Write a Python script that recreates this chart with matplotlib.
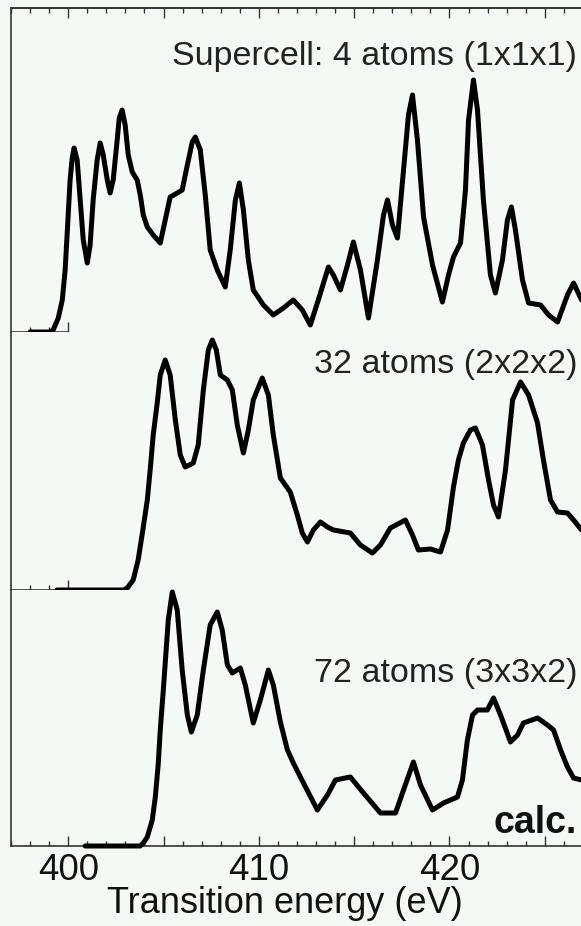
import numpy as np
import matplotlib.pyplot as plt
from matplotlib.ticker import MultipleLocator, FixedLocator, NullFormatter, FuncFormatter

plt.rcParams['font.family'] = ['Liberation Sans', 'DejaVu Sans']

# Spectra: energy (eV) and intensity (arb. units)
e_4 = [398.0, 399.06, 399.21, 399.48, 399.69, 399.84, 400.00, 400.10, 400.21, 400.31,
       400.47, 400.63, 400.79, 401.00, 401.15, 401.31, 401.52, 401.68, 401.84, 402.05,
       402.20, 402.36, 402.57, 402.68, 402.83, 402.99, 403.15, 403.36, 403.62, 403.78,
       403.94, 404.15, 404.46, 404.83, 405.09, 405.35, 405.72, 405.98, 406.25, 406.51,
       406.67, 406.93, 407.19, 407.45, 407.82, 408.24, 408.50, 408.77, 408.98, 409.19,
       409.45, 409.71, 410.24, 410.76, 411.29, 411.81, 412.28, 412.70, 413.12, 413.65,
       413.91, 414.28, 414.65, 414.96, 415.33, 415.75, 416.22, 416.54, 416.75, 417.01,
       417.27, 417.59, 417.85, 418.06, 418.32, 418.64, 419.11, 419.63, 419.95, 420.21,
       420.58, 420.84, 421.00, 421.26, 421.47, 421.78, 422.15, 422.41, 422.78, 423.04,
       423.25, 423.46, 423.83, 424.15, 424.78, 425.20, 425.67, 426.19, 426.51, 426.93]
i_4 = [0, 0, 2, 14, 32, 62, 117, 152, 174, 184,
       172, 132, 92, 69, 87, 132, 172, 189, 177, 152,
       139, 152, 192, 214, 222, 207, 177, 160, 152, 137,
       117, 105, 97, 89, 112, 135, 139, 142, 167, 190,
       195, 182, 137, 82, 62, 45, 82, 132, 149, 122,
       72, 42, 27, 17, 24, 32, 22, 7, 32, 65,
       57, 42, 67, 90, 62, 14, 72, 117, 132, 107,
       94, 162, 217, 237, 192, 115, 67, 30, 57, 75,
       89, 142, 212, 252, 222, 132, 57, 39, 72, 112,
       125, 102, 52, 29, 27, 17, 10, 37, 49, 32]

e_32 = [399.42, 402.89, 403.10, 403.41, 403.67, 403.94, 404.15, 404.30, 404.46, 404.67,
        404.83, 405.09, 405.35, 405.62, 405.88, 406.14, 406.56, 406.82, 407.09, 407.35,
        407.56, 407.77, 407.98, 408.35, 408.61, 408.87, 409.19, 409.45, 409.71, 410.18,
        410.50, 410.76, 411.13, 411.65, 412.02, 412.28, 412.55, 412.86, 413.23, 413.60,
        413.91, 414.80, 415.33, 415.96, 416.38, 416.90, 417.69, 418.06, 418.37, 419.00,
        419.53, 419.90, 420.21, 420.47, 420.73, 421.10, 421.36, 421.73, 422.05, 422.31,
        422.57, 422.94, 423.31, 423.73, 424.15, 424.62, 424.93, 425.30, 425.67, 426.19,
        426.51, 426.93]
i_32 = [0, 0, 2, 10, 30, 63, 90, 120, 155, 187,
        215, 230, 215, 170, 135, 123, 127, 145, 200, 240,
        250, 240, 215, 210, 200, 165, 137, 160, 190, 212,
        195, 155, 112, 98, 75, 57, 48, 60, 68, 63,
        60, 57, 45, 37, 45, 62, 70, 55, 40, 41,
        38, 60, 103, 130, 147, 160, 162, 145, 110, 85,
        73, 120, 190, 208, 195, 167, 130, 90, 78, 77,
        70, 60]

e_72 = [400.89, 403.78, 403.94, 404.15, 404.41, 404.57, 404.72, 404.83, 404.99, 405.09,
        405.25, 405.46, 405.72, 405.98, 406.25, 406.46, 406.77, 407.09, 407.45, 407.82,
        408.08, 408.35, 408.61, 409.03, 409.29, 409.71, 410.08, 410.50, 410.76, 411.13,
        411.50, 411.81, 412.18, 413.07, 413.60, 414.02, 414.80, 415.49, 416.38, 417.17,
        417.59, 418.11, 418.48, 419.11, 419.69, 420.42, 420.68, 420.94, 421.21, 421.47,
        421.99, 422.31, 422.68, 423.20, 423.57, 423.88, 424.62, 425.14, 425.46, 425.83,
        426.19, 426.51, 426.93]
i_72 = [0, 0, 3, 9, 26, 49, 81, 116, 156, 183,
        226, 254, 236, 176, 131, 114, 131, 176, 221, 234,
        216, 181, 173, 178, 161, 123, 146, 176, 161, 124,
        96, 83, 69, 36, 51, 66, 69, 53, 33, 33,
        56, 84, 61, 36, 43, 49, 66, 106, 131, 136,
        136, 148, 131, 104, 111, 123, 128, 121, 116, 96,
        79, 68, 66]

labels = ['Supercell: 4 atoms (1x1x1)', '32 atoms (2x2x2)', '72 atoms (3x3x2)']
label_y = [0.824, 0.841, 0.641]
ymax = [324, 258, 256]
series = [(e_4, i_4), (e_32, i_32), (e_72, i_72)]

bg = '#f5f9f6'
spine_c = '#333333'

fig = plt.figure(figsize=(5.81, 9.26), dpi=100, facecolor=bg)
gs = fig.add_gridspec(3, 1, left=11 / 581, right=1.0, top=1 - 8 / 926, bottom=1 - 846 / 926,
                      hspace=0, height_ratios=ymax)
axes = [fig.add_subplot(gs[k]) for k in range(3)]

for k, ax in enumerate(axes):
    e, inten = series[k]
    ax.set_facecolor(bg)
    ax.plot(e, inten, color='black', lw=3.6, solid_joinstyle='round',
            solid_capstyle='round', clip_on=False, zorder=3)
    ax.set_xlim(397.0, 426.9)
    ax.set_ylim(0, ymax[k])
    ax.set_yticks([])
    ax.spines['right'].set_visible(False)
    for s in ax.spines.values():
        s.set_color(spine_c)
        s.set_linewidth(1.2)
    ax.text(0.993, label_y[k], labels[k], transform=ax.transAxes, ha='right',
            va='baseline', fontsize=24.5, color='#222222')
    if k < 2:
        ax.spines['bottom'].set_bounds(397.0, 400.0)
        ax.xaxis.set_major_locator(FixedLocator([400]))
        ax.xaxis.set_minor_locator(FixedLocator([398, 399]))
        ax.tick_params(axis='x', which='both', direction='in', top=False,
                       labelbottom=False, color=spine_c, width=1.0)
        ax.tick_params(axis='x', which='major', length=7)
        ax.tick_params(axis='x', which='minor', length=3.5)
    if k > 0:
        ax.spines['top'].set_visible(False)

# top ticks of the upper panel
sec = axes[0].secondary_xaxis('top')
sec.xaxis.set_major_locator(MultipleLocator(5))
sec.xaxis.set_minor_locator(MultipleLocator(1))
sec.xaxis.set_major_formatter(NullFormatter())
sec.tick_params(which='both', direction='in', color=spine_c, width=1.0)
sec.tick_params(which='major', length=7)
sec.tick_params(which='minor', length=3.5)
sec.spines['top'].set_color(spine_c)
sec.spines['top'].set_linewidth(1.2)

ax = axes[2]
ax.xaxis.set_major_locator(MultipleLocator(5))
ax.xaxis.set_minor_locator(MultipleLocator(1))
ax.xaxis.set_major_formatter(FuncFormatter(lambda v, p: f'{v:.0f}' if v % 10 == 0 else ''))
ax.tick_params(axis='x', which='both', direction='in', top=False, color=spine_c,
               width=1.0, labelsize=26.5, pad=5, labelcolor='#111111')
ax.tick_params(axis='x', which='major', length=7)
ax.tick_params(axis='x', which='minor', length=3.5)
ax.set_xlabel('Transition energy (eV)', fontsize=26, color='#111111')
ax.xaxis.set_label_coords(0.48, -0.158)
ax.text(0.993, 0.051, 'calc.', transform=ax.transAxes, ha='right', va='baseline',
        fontsize=27, fontweight='bold', color='#111111')

fig.savefig('out.png', dpi=100, facecolor=bg)
